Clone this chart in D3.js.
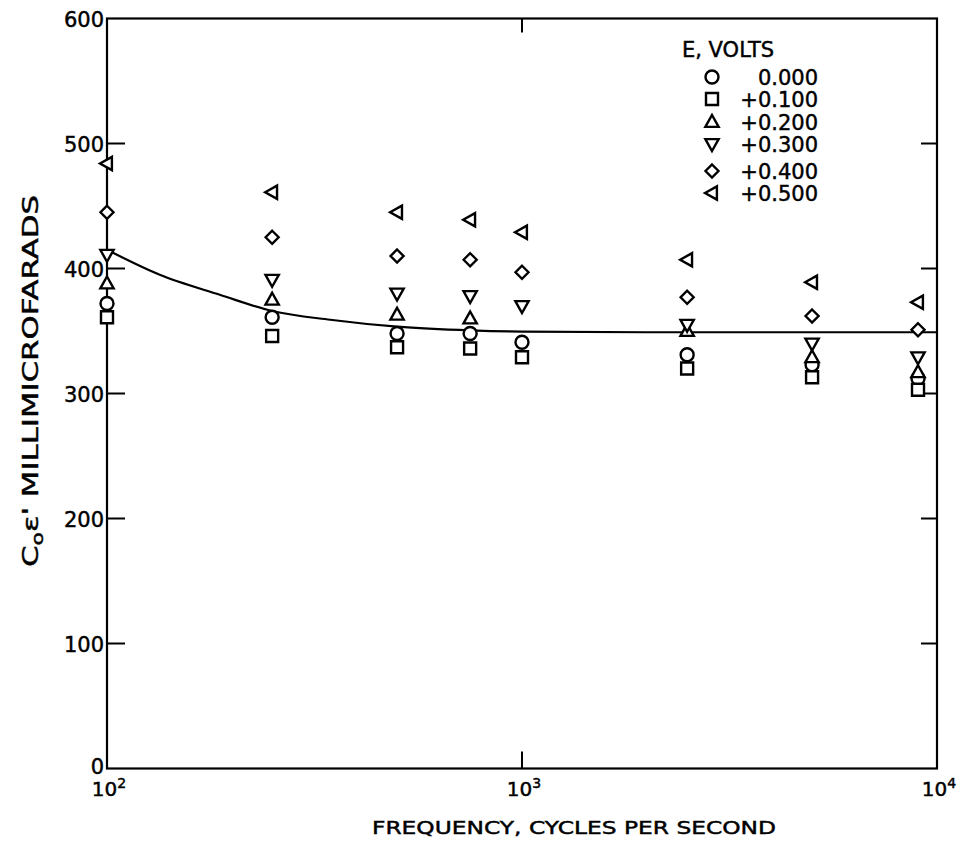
<!DOCTYPE html>
<html>
<head>
<meta charset="utf-8">
<script src="https://cdn.jsdelivr.net/npm/d3@7"></script>
<style>
  html, body { margin: 0; padding: 0; background: #fff; }
  svg { display: block; }
  text { font-family: "DejaVu Sans", sans-serif; fill: #000; stroke: #000; stroke-width: 0.45; }
</style>
</head>
<body>
<svg id="chart" width="969" height="849"></svg>
<script>
// ---- data ----
const frequencies = [100, 250, 500, 750, 1000, 2500, 5000, 9000];
const seriesLabels = ["0.000", "+0.100", "+0.200", "+0.300", "+0.400", "+0.500"];
const seriesShapes = ["circle", "square", "triUp", "triDown", "diamond", "triLeft"];
const v0000 = [372, 361, 348, 348, 341, 331, 323, 312];
const v0100 = [361, 346, 337, 336, 329, 320, 313, 303];
const v0200 = [388, 375, 363, 360, null, 350, 329, 317];
const v0300 = [411, 391, 380, 378, 370, 355, 340, 329];
const v0400 = [445, 425, 410, 407, 397, 377, 362, 351];
const v0500 = [484, 461, 445, 439, 429, 407, 389, 373];
const seriesValues = [v0000, v0100, v0200, v0300, v0400, v0500];
const curveFreq = [100, 134, 187, 250, 345, 500, 750, 1000, 2000, 10000];
const curveVal  = [415, 395, 379, 366, 359, 353.5, 350.5, 349.5, 349, 349];
const yTicks = [0, 100, 200, 300, 400, 500, 600];
const xTickExp = [2, 3, 4];

// ---- layout ----
const svg = d3.select("#chart");
const L = 107, R = 937, T = 18.5, B = 768.5;
const x = d3.scaleLog().domain([100, 10000]).range([L, R]);
const y = d3.scaleLinear().domain([0, 600]).range([B, T]);

function symPath(shape) {
  const r = 7;
  switch (shape) {
    case "circle": { const p = d3.path(); p.arc(0, 0, 6.5, 0, 2 * Math.PI); p.closePath(); return p.toString(); }
    case "square": { const s = 6; return `M${-s},${-s}H${s}V${s}H${-s}Z`; }
    case "triUp": return `M0,${-r}L${r * 0.95},${r * 0.7}L${-r * 0.95},${r * 0.7}Z`;
    case "triDown": return `M0,${r}L${r * 0.95},${-r * 0.7}L${-r * 0.95},${-r * 0.7}Z`;
    case "triLeft": return `M${-r},0L${r * 0.7},${-r * 0.95}L${r * 0.7},${r * 0.95}Z`;
    case "diamond": { const d = 6.5; return `M0,${-d}L${d},0L0,${d}L${-d},0Z`; }
  }
}

// frame
svg.append("rect").attr("x", L).attr("y", T).attr("width", R - L).attr("height", B - T)
  .attr("fill", "none").attr("stroke", "#000").attr("stroke-width", 2.2);

// y ticks (inward, both sides)
yTicks.filter(t => t > 0 && t < 600).forEach(t => {
  svg.append("line").attr("x1", L).attr("x2", L + 18).attr("y1", y(t)).attr("y2", y(t))
    .attr("stroke", "#000").attr("stroke-width", 2);
  svg.append("line").attr("x1", R).attr("x2", R - 16).attr("y1", y(t)).attr("y2", y(t))
    .attr("stroke", "#000").attr("stroke-width", 2);
});
svg.selectAll("text.ytl").data(yTicks).enter().append("text")
  .attr("class", "ytl")
  .attr("x", L - 3).attr("y", d => d === 0 ? y(d) + 5 : y(d) + 8)
  .attr("text-anchor", "end").attr("font-size", 21)
  .text(d => d);

// x ticks at 10^3
svg.append("line").attr("x1", x(1000)).attr("x2", x(1000)).attr("y1", B).attr("y2", B - 17)
  .attr("stroke", "#000").attr("stroke-width", 2);
svg.append("line").attr("x1", x(1000)).attr("x2", x(1000)).attr("y1", T).attr("y2", T + 14)
  .attr("stroke", "#000").attr("stroke-width", 2);

xTickExp.forEach(e => {
  const t = svg.append("text").attr("x", x(Math.pow(10, e)) + 2).attr("y", 796)
    .attr("text-anchor", "middle").attr("font-size", 20);
  t.append("tspan").text("10");
  t.append("tspan").attr("dy", -8).attr("font-size", 14).text(e);
});

// axis titles
svg.append("text").attr("x", 574).attr("y", 834).attr("text-anchor", "middle")
  .attr("font-size", 18).attr("textLength", 404).attr("lengthAdjust", "spacingAndGlyphs")
  .text("FREQUENCY, CYCLES PER SECOND");

const yt = svg.append("text").attr("transform", "translate(38,381) rotate(-90)")
  .attr("text-anchor", "middle").attr("font-size", 21)
  .attr("textLength", 372).attr("lengthAdjust", "spacingAndGlyphs");
yt.append("tspan").text("C");
yt.append("tspan").attr("dy", 5).attr("font-size", 15).text("o");
yt.append("tspan").attr("dy", -5).text("\u03B5' MILLIMICROFARADS");

// curve
const line = d3.line().x(d => x(d[0])).y(d => y(d[1])).curve(d3.curveMonotoneX);
svg.append("path").datum(curveFreq.map((f, i) => [f, curveVal[i]]))
  .attr("d", line).attr("fill", "none").attr("stroke", "#000").attr("stroke-width", 2.2);

// points
seriesValues.forEach((vals, si) => {
  const pts = frequencies.map((f, i) => ({ f, v: vals[i] })).filter(d => d.v != null);
  svg.selectAll(null).data(pts).enter().append("path")
    .attr("d", symPath(seriesShapes[si]))
    .attr("transform", d => `translate(${x(d.f)},${y(d.v)})`)
    .attr("fill", "#fff").attr("stroke", "#000").attr("stroke-width", 2.4);
});

// legend
svg.append("text").attr("x", 682).attr("y", 57).attr("font-size", 21).text("E, VOLTS");
const legY = [77, 99, 122, 144, 171, 193];
seriesLabels.forEach((lab, i) => {
  svg.append("path").attr("d", symPath(seriesShapes[i]))
    .attr("transform", `translate(712,${legY[i]})`)
    .attr("fill", "#fff").attr("stroke", "#000").attr("stroke-width", 2.4);
  svg.append("text").attr("x", 818).attr("y", legY[i] + 8).attr("text-anchor", "end")
    .attr("font-size", 21).text(lab);
});
</script>
</body>
</html>
